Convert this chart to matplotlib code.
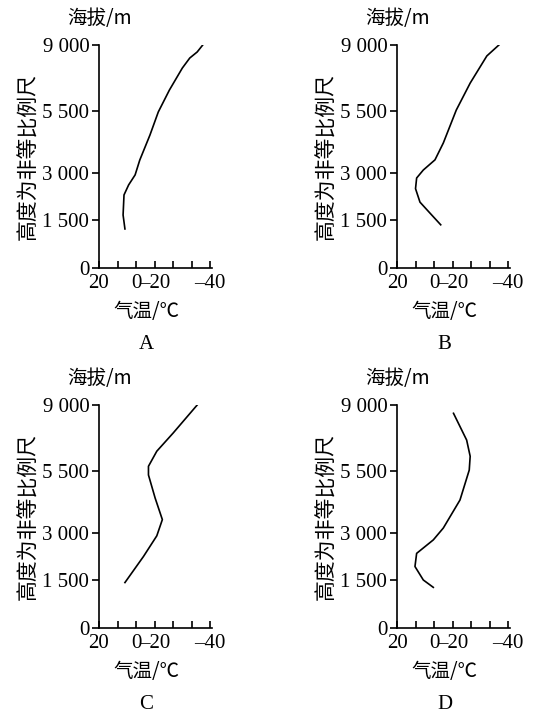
import numpy as np
import matplotlib
matplotlib.use("Agg")
import matplotlib.pyplot as plt

alt_ticks = [0, 1500, 3000, 5500, 9000]
alt_tick_labels = ["0", "1 500", "3 000", "5 500", "9 000"]
alt_tick_pos = [0, 48, 95, 157, 223]  # non-proportional scale positions
temp_ticks = [20, 10, 0, -10, -20, -30, -40]
temp_labels = ["20", "", "0", "\u201320", "", "", "\u201340"]

A_temp = [6, 7, 6.5, 4, 0.5, -2, -7.5, -12, -18, -25, -29, -33, -36]
A_alt = [1220, 1660, 2300, 2620, 2940, 3520, 4530, 5460, 6610, 7780, 8310, 8630, 9100]
B_temp = [-3.6, 2.2, 7.6, 10, 9.4, 5.8, -0.5, -5, -12, -19.5, -28.5, -35]
B_alt = [1350, 1720, 2070, 2500, 2840, 3120, 3530, 4210, 5550, 6980, 8420, 9200]
C_temp = [6, -4, -11.2, -14.2, -10.3, -6.7, -6.7, -11.2, -20, -33]
C_alt = [1420, 2250, 2910, 3540, 4410, 5340, 5750, 6550, 7510, 9250]
D_temp = [0.4, 5.8, 10.3, 9.4, 0.4, -5, -14, -19, -19.5, -17.6, -10.5]
D_alt = [1270, 1500, 1930, 2350, 2780, 3200, 4330, 5550, 6280, 7140, 8560]
panels = ["A", "B", "C", "D"]
series = [(A_temp, A_alt), (B_temp, B_alt), (C_temp, C_alt), (D_temp, D_alt)]

CJK = ["Noto Sans CJK SC", "DejaVu Sans"]
NUM = "Liberation Serif"

def ypos(a):
    return np.interp(a, alt_ticks, alt_tick_pos)

W, H = 541, 718
fig = plt.figure(figsize=(W / 100, H / 100), dpi=100)
origins = [(99, 268), (397, 268), (99, 628), (397, 628)]
for (ox, oy), name, (t, a) in zip(origins, panels, series):
    ax = fig.add_axes([ox / W, (H - oy) / H, 113 / W, 223 / H])
    ax.plot(t, ypos(a), color="black", lw=1.2)
    ax.set_xlim(20, -41)
    ax.set_ylim(0, 223)
    for s in ["top", "right"]:
        ax.spines[s].set_visible(False)
    ax.spines["left"].set_linewidth(1.2)
    ax.spines["bottom"].set_linewidth(1.2)
    ax.set_yticks(alt_tick_pos)
    ax.set_yticklabels(alt_tick_labels, fontfamily=NUM, fontsize=15)
    ax.set_xticks(temp_ticks)
    ax.set_xticklabels(temp_labels, fontfamily=NUM, fontsize=15)
    ax.tick_params(axis="y", direction="out", length=5, width=1.2, pad=2)
    ax.tick_params(axis="x", direction="in", length=5, width=1.2, pad=4)
    ax.set_ylabel("高度为非等比例尺", family=CJK, fontsize=15, labelpad=2)
    ax.text(0.0, 1.07, "海拔/m", transform=ax.transAxes, family=CJK, fontsize=14,
            ha="center", va="bottom")
    ax.text(0.42, -0.15, "气温/℃", transform=ax.transAxes, family=CJK, fontsize=14,
            ha="center", va="top")
    ax.text(0.42, -0.30, name, transform=ax.transAxes, family=NUM, fontsize=15,
            ha="center", va="top")

fig.savefig("out.png", dpi=100)
